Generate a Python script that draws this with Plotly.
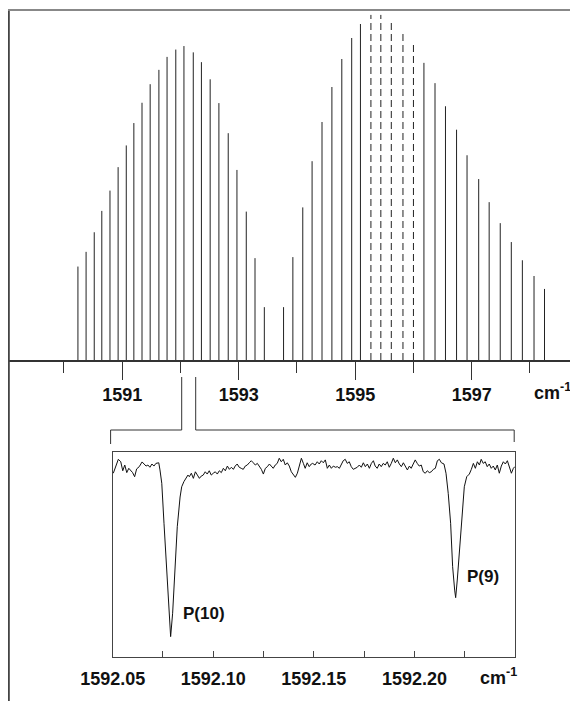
import plotly.graph_objects as go

# ---------------- data ----------------
# Upper panel: stick spectrum, wavenumber (cm-1) and relative intensity
BAND1_WN = [1590.24, 1590.38, 1590.52, 1590.65, 1590.79, 1590.93, 1591.07, 1591.20,
            1591.34, 1591.48, 1591.63, 1591.77, 1591.92, 1592.06, 1592.22, 1592.36,
            1592.51, 1592.66, 1592.82, 1592.97, 1593.13, 1593.28, 1593.44]
BAND1_INT = [26.7, 30.9, 36.5, 42.6, 48.4, 55.1, 61.3, 67.7, 73.5, 78.8, 82.9, 86.6,
             88.7, 89.7, 87.9, 85.1, 80.2, 73.4, 64.8, 54.3, 42.4, 29.1, 15.1]

BAND2_WN = [1593.77, 1593.93, 1594.10, 1594.26, 1594.43, 1594.60, 1594.77, 1594.94,
            1595.09, 1596.18, 1596.37, 1596.55, 1596.74, 1596.92, 1597.12, 1597.30,
            1597.49, 1597.68, 1597.87, 1598.07, 1598.25]
BAND2_INT = [15.1, 29.4, 43.6, 56.8, 68.0, 78.0, 86.0, 92.0, 96.0, 84.9, 79.1, 72.5,
             65.8, 58.5, 51.7, 45.1, 39.1, 33.7, 28.5, 24.0, 20.3]

DASHED_WN = [1595.27, 1595.44, 1595.62, 1595.82, 1596.00]
DASHED_INT = [98.6, 98.6, 97.4, 94.0, 90.0]

MAIN_TICK_MAJOR = [1591, 1593, 1595, 1597]
MAIN_RANGE = [1589.048, 1598.825]

# Lower panel: measured transmission trace
INSET_WN = [
    1592.0503, 1592.0516, 1592.0528, 1592.0540, 1592.0550, 1592.0560, 1592.0570, 1592.0580,
    1592.0589, 1592.0599, 1592.0609, 1592.0619, 1592.0632, 1592.0646, 1592.0656, 1592.0666,
    1592.0675, 1592.0685, 1592.0695, 1592.0705, 1592.0715, 1592.0729, 1592.0735, 1592.0744,
    1592.0755, 1592.0768, 1592.0780, 1592.0788, 1592.0798, 1592.0810, 1592.0821, 1592.0835,
    1592.0843, 1592.0854, 1592.0864, 1592.0874, 1592.0881, 1592.0891, 1592.0901, 1592.0911,
    1592.0921, 1592.0931, 1592.0940, 1592.0950, 1592.0960, 1592.0970, 1592.0980, 1592.0990,
    1592.1000, 1592.1010, 1592.1020, 1592.1030, 1592.1040, 1592.1050, 1592.1060, 1592.1070,
    1592.1080, 1592.1090, 1592.1100, 1592.1109, 1592.1119, 1592.1129, 1592.1139, 1592.1149,
    1592.1159, 1592.1169, 1592.1179, 1592.1189, 1592.1199, 1592.1209, 1592.1219, 1592.1229,
    1592.1239, 1592.1249, 1592.1259, 1592.1269, 1592.1279, 1592.1288, 1592.1298, 1592.1308,
    1592.1318, 1592.1328, 1592.1338, 1592.1348, 1592.1358, 1592.1368, 1592.1378, 1592.1388,
    1592.1398, 1592.1408, 1592.1418, 1592.1428, 1592.1438, 1592.1448, 1592.1457, 1592.1467,
    1592.1477, 1592.1487, 1592.1494, 1592.1506, 1592.1517, 1592.1527, 1592.1537, 1592.1547,
    1592.1557, 1592.1567, 1592.1577, 1592.1587, 1592.1597, 1592.1607, 1592.1617, 1592.1627,
    1592.1636, 1592.1646, 1592.1656, 1592.1666, 1592.1676, 1592.1686, 1592.1696, 1592.1706,
    1592.1716, 1592.1726, 1592.1736, 1592.1746, 1592.1756, 1592.1766, 1592.1776, 1592.1786,
    1592.1796, 1592.1805, 1592.1815, 1592.1825, 1592.1835, 1592.1845, 1592.1855, 1592.1865,
    1592.1875, 1592.1885, 1592.1895, 1592.1905, 1592.1915, 1592.1925, 1592.1935, 1592.1945,
    1592.1955, 1592.1965, 1592.1975, 1592.1984, 1592.1994, 1592.2004, 1592.2014, 1592.2024,
    1592.2034, 1592.2044, 1592.2054, 1592.2064, 1592.2074, 1592.2084, 1592.2094, 1592.2104,
    1592.2114, 1592.2124, 1592.2134, 1592.2147, 1592.2157, 1592.2168, 1592.2180, 1592.2190,
    1592.2200, 1592.2205, 1592.2213, 1592.2227, 1592.2238, 1592.2248, 1592.2260, 1592.2273,
    1592.2283, 1592.2293, 1592.2303, 1592.2313, 1592.2323, 1592.2332, 1592.2342, 1592.2352,
    1592.2362, 1592.2372, 1592.2382, 1592.2392, 1592.2402, 1592.2412, 1592.2422, 1592.2432,
    1592.2442, 1592.2452, 1592.2462, 1592.2472, 1592.2482, 1592.2492, 1592.2499]
INSET_T = [
    89.5, 93.5, 96.3, 95.1, 90.7, 93.5, 89.8, 91.9,
    90.7, 89.8, 87.8, 91.6, 92.7, 95.0, 94.0, 93.0,
    93.5, 92.4, 94.0, 93.0, 94.3, 94.6, 91.1, 84.6,
    65.1, 40.7, 19.5, 9.8, 21.2, 43.9, 63.4, 77.9,
    82.9, 85.4, 87.0, 88.6, 87.8, 89.5, 87.0, 90.2,
    88.6, 87.0, 88.1, 88.6, 90.2, 89.1, 90.7, 88.6,
    89.5, 90.2, 89.1, 90.7, 89.8, 91.9, 90.7, 93.0,
    91.4, 92.4, 91.4, 93.0, 94.0, 92.4, 91.9, 91.4,
    93.0, 93.5, 94.6, 95.6, 94.6, 93.5, 94.3, 92.7,
    91.4, 89.1, 91.9, 92.7, 94.0, 93.0, 91.9, 93.5,
    94.3, 96.8, 95.1, 96.3, 93.5, 94.6, 93.0, 90.2,
    88.6, 87.5, 89.5, 93.5, 96.8, 94.3, 91.9, 94.6,
    92.7, 94.0, 94.3, 93.5, 95.1, 94.0, 95.6, 94.6,
    96.0, 91.9, 93.5, 91.9, 93.0, 92.4, 92.7, 91.9,
    93.5, 95.6, 96.3, 94.3, 95.1, 92.7, 91.4, 91.9,
    92.4, 93.5, 92.4, 94.6, 92.7, 94.0, 91.9, 94.3,
    95.6, 93.0, 91.9, 94.0, 92.7, 94.3, 93.5, 95.1,
    92.4, 94.3, 96.8, 94.6, 96.0, 94.0, 92.7, 94.6,
    92.4, 91.1, 93.0, 91.9, 94.0, 96.0, 94.3, 93.0,
    93.5, 90.2, 89.5, 90.7, 89.8, 90.2, 91.4, 91.9,
    95.6, 96.3, 94.6, 94.0, 89.5, 79.7, 65.1, 43.9,
    32.5, 28.8, 37.4, 55.3, 73.2, 82.9, 87.8, 89.1,
    91.4, 94.3, 91.9, 95.1, 93.5, 96.3, 94.3, 95.1,
    92.7, 94.0, 91.9, 93.0, 91.1, 93.5, 89.5, 93.0,
    95.1, 94.0, 95.6, 92.7, 89.5, 91.9, 92.7]

INSET_TICKS = [1592.05, 1592.10, 1592.15, 1592.20]
INSET_TICK_LABELS = ["1592.05", "1592.10", "1592.15", "1592.20"]
INSET_RANGE = [1592.05, 1592.25]

# ---------------- figure ----------------
# page body has an 8 px margin, so the figure is 570x693 and starts at (8, 8)
OFF = 8
W, H = 570, 693
FONT = "Liberation Sans, Arial, Helvetica, sans-serif"


def px_x(p):
    """paper x of a window pixel column"""
    return (p - OFF) / W


def px_y(p):
    """paper y of a window pixel row"""
    return 1 - (p - OFF) / H


def sticks(wn, it):
    xs, ys = [], []
    for w, v in zip(wn, it):
        xs += [w, w, None]
        ys += [0, v, None]
    return xs, ys


fig = go.Figure()

sx, sy = sticks(BAND1_WN + BAND2_WN, BAND1_INT + BAND2_INT)
fig.add_trace(go.Scatter(x=sx, y=sy, mode="lines", line=dict(color="#222", width=1),
                         xaxis="x", yaxis="y", hoverinfo="skip", showlegend=False))
dx_, dy_ = sticks(DASHED_WN, DASHED_INT)
fig.add_trace(go.Scatter(x=dx_, y=dy_, mode="lines",
                         line=dict(color="#222", width=1, dash="7px,4px"),
                         xaxis="x", yaxis="y", hoverinfo="skip", showlegend=False))

fig.add_trace(go.Scatter(x=INSET_WN, y=INSET_T, mode="lines",
                         line=dict(color="#111", width=1),
                         xaxis="x2", yaxis="y2", hoverinfo="skip", showlegend=False))

tick_font = dict(family=FONT, size=18, color="#111", weight="bold")

fig.update_layout(
    template="none",
    width=W, height=H,
    margin=dict(l=0, r=0, t=0, b=0, pad=0),
    paper_bgcolor="white", plot_bgcolor="rgba(0,0,0,0)",
    showlegend=False,
    xaxis=dict(
        domain=[px_x(8.5), 1], range=MAIN_RANGE, anchor="y", automargin=False,
        showgrid=False, zeroline=False,
        showline=True, linecolor="#333", linewidth=1.5,
        ticks="outside", ticklen=18, tickwidth=1, tickcolor="#333",
        tick0=MAIN_TICK_MAJOR[0], dtick=2,
        minor=dict(ticks="outside", ticklen=11, tickwidth=1, tickcolor="#333", dtick=1,
                   showgrid=False),
        tickfont=tick_font,
    ),
    yaxis=dict(domain=[px_y(360), px_y(10)], range=[0, 100], visible=False,
               anchor="x", automargin=False, showgrid=False, zeroline=False),
    xaxis2=dict(
        domain=[px_x(112.7), px_x(515)], range=INSET_RANGE, anchor="y2", automargin=False,
        showgrid=False, zeroline=False,
        showline=True, mirror=True, linecolor="#444", linewidth=1,
        ticks="inside", ticklen=6, tickwidth=1, tickcolor="#444",
        tickvals=INSET_TICKS, ticktext=INSET_TICK_LABELS,
        minor=dict(ticks="inside", ticklen=6, tickwidth=1, tickcolor="#444", dtick=0.025,
                   tick0=1592.05, showgrid=False),
        tickfont=tick_font, ticklabelstandoff=6,
    ),
    yaxis2=dict(
        domain=[px_y(656.7), px_y(451.7)], range=[0, 100], anchor="x2", automargin=False,
        showgrid=False, zeroline=False, showticklabels=False, ticks="",
        showline=True, mirror=True, linecolor="#444", linewidth=1,
    ),
)

shapes = [
    # outer frame: left rule and top rule
    dict(type="line", xref="paper", yref="paper", x0=px_x(8.8), x1=px_x(8.8),
         y0=0, y1=px_y(10), line=dict(color="#444", width=2)),
    dict(type="line", xref="paper", yref="paper", x0=px_x(8), x1=1,
         y0=px_y(10), y1=px_y(10), line=dict(color="#888", width=2)),
    # bracket linking the stick spectrum to the expanded trace
    dict(type="path", xref="paper", yref="paper",
         path=f"M {px_x(181.7)} {px_y(377)} L {px_x(181.7)} {px_y(430)} "
              f"L {px_x(110.6)} {px_y(430)} L {px_x(110.6)} {px_y(444)}",
         line=dict(color="#333", width=1)),
    dict(type="path", xref="paper", yref="paper",
         path=f"M {px_x(195.7)} {px_y(377)} L {px_x(195.7)} {px_y(430)} "
              f"L {px_x(514.2)} {px_y(430)} L {px_x(514.2)} {px_y(442)}",
         line=dict(color="#333", width=1)),
]
fig.update_layout(shapes=shapes)

ann_font = dict(family=FONT, size=18, color="#111", weight="bold")
lab_font = dict(family=FONT, size=17, color="#111", weight="bold")
fig.update_layout(annotations=[
    dict(text="cm<sup>-1</sup>", xref="paper", yref="paper", x=px_x(533), y=px_y(391),
         xanchor="left", yanchor="middle", showarrow=False, font=ann_font, borderpad=0),
    dict(text="cm<sup>-1</sup>", xref="paper", yref="paper", x=px_x(479), y=px_y(676),
         xanchor="left", yanchor="middle", showarrow=False, font=ann_font, borderpad=0),
    dict(text="P(10)", xref="x2", yref="y2", x=1592.0840, y=21.2,
         xanchor="left", yanchor="middle", showarrow=False, font=lab_font),
    dict(text="P(9)", xref="x2", yref="y2", x=1592.2252, y=39.0,
         xanchor="left", yanchor="middle", showarrow=False, font=lab_font),
])

fig.write_html("out.html")
